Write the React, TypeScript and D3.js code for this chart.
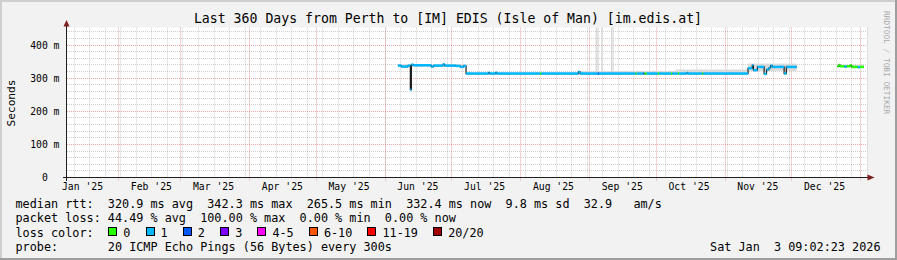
import React from "react";
import * as d3 from "d3";

const W = 897;
const H = 260;
const PLOT = { left: 67, right: 867, top: 27.5, bottom: 177.5 };

const domainStart = "2025-01-09T01:00:00Z";
const domainEnd = "2026-01-04T03:24:00Z";
const yMax = 453;
const yMajorTicks = [0, 100, 200, 300, 400];
const yMinorTicks = [20, 40, 60, 80, 120, 140, 160, 180, 220, 240, 260, 280, 320, 340, 360, 380, 420, 440];

const titleText = "Last 360 Days from Perth to [IM] EDIS (Isle of Man) [im.edis.at]";
const yAxisLabel = "Seconds";
const watermark = "RRDTOOL / TOBI OETIKER";
const stampText = "Sat Jan  3 09:02:23 2026";

// median rtt (ms) as step data; loss = lost pings out of 20
const medianTimes = [
  "2025-06-07T00:00Z", "2025-06-08T12:00Z", "2025-06-11T12:00Z", "2025-06-12T14:00Z", "2025-06-13T02:00Z",
  "2025-06-14T00:00Z", "2025-06-22T00:00Z", "2025-06-23T00:00Z", "2025-06-27T07:00Z", "2025-06-28T00:00Z",
  "2025-07-03T00:00Z", "2025-07-05T00:00Z", "2025-07-06T15:00Z", "2025-07-07T16:00Z", "2025-07-17T19:00Z",
  "2025-07-18T06:00Z", "2025-07-21T00:00Z", "2025-07-21T12:00Z", "2025-08-10T00:00Z", "2025-08-10T12:00Z",
  "2025-08-27T06:00Z", "2025-08-28T00:00Z", "2025-09-05T00:00Z", "2025-09-05T12:00Z", "2025-09-22T00:00Z",
  "2025-09-22T12:00Z", "2025-09-25T12:00Z", "2025-09-26T00:00Z", "2025-09-27T00:00Z", "2025-10-02T00:00Z",
  "2025-10-02T12:00Z", "2025-10-08T00:00Z", "2025-10-08T12:00Z", "2025-10-11T00:00Z", "2025-10-11T12:00Z",
  "2025-10-15T00:00Z", "2025-10-15T12:00Z", "2025-10-22T00:00Z", "2025-10-22T12:00Z", "2025-11-11T14:00Z",
  "2025-11-13T12:00Z", "2025-11-14T00:00Z", "2025-11-15T20:00Z", "2025-11-18T20:00Z", "2025-11-19T22:00Z",
  "2025-11-21T00:00Z", "2025-11-21T18:00Z", "2025-11-22T12:00Z", "2025-11-27T20:00Z", "2025-11-28T20:00Z",
  "2025-12-03T12:00Z", "2025-12-21T18:00Z", "2025-12-22T12:00Z", "2025-12-23T00:00Z", "2025-12-25T00:00Z",
  "2025-12-26T00:00Z", "2025-12-27T14:00Z", "2025-12-28T06:00Z", "2025-12-31T00:00Z", "2026-01-01T00:00Z",
  "2026-01-02T18:00Z",
];
const medianMs: (number | null)[] = [
  338, 335, 338, 265, 341,
  339, 335, 338, 342, 338,
  337, 334, 337, 314, 317,
  314, 317, 314, 314, 314,
  319, 314, 314, 314, 314,
  314, 314, 314, 314, 314,
  314, 314, 314, 314, 314,
  316, 314, 314, 314, 330,
  339, 324, 334, 313, 326,
  331, 338, 334, 314, 334,
  null, 336, 340, 336, 335,
  336, 339, 334, 333, 334,
  null,
];
const medianLoss: (number | null)[] = [
  1, 1, 1, 1, 1,
  1, 1, 1, 1, 1,
  1, 1, 1, 1, 1,
  1, 1, 1, 0, 1,
  1, 1, 2, 1, 0,
  1, 2, 0, 1, 0,
  1, 0, 1, 0, 1,
  1, 1, 0, 1, 1,
  1, 1, 1, 1, 1,
  1, 1, 1, 1, 1,
  null, 0, 0, 0, 1,
  0, 0, 0, 1, 0,
  null,
];

// smoke (spread of individual pings), ms
const smokeTimes = [
  "2025-06-07T00:00Z", "2025-07-07T16:00Z", "2025-08-28T00:00Z", "2025-09-04T00:00Z", "2025-09-04T12:00Z",
  "2025-09-04T20:00Z", "2025-09-05T08:00Z", "2025-09-06T14:00Z", "2025-09-07T00:00Z", "2025-09-11T00:00Z",
  "2025-09-11T10:00Z", "2025-09-11T14:00Z", "2025-09-12T00:00Z", "2025-10-10T00:00Z", "2025-11-11T14:00Z",
  "2025-12-03T12:00Z", "2025-12-21T18:00Z", "2026-01-02T18:00Z",
];
const smokeLo: (number | null)[] = [334, 312, 312, 312, 312, 312, 312, 312, 312, 312, 312, 312, 312, 312, 322, null, 334, null];
const smokeHi: (number | null)[] = [342, 317, 321, 480, 321, 480, 321, 480, 321, 480, 321, 480, 322, 326, 344, null, 340, null];

const lossLabels = ["0", "1", "2", "3", "4-5", "6-10", "11-19", "20/20"];
const lossColors = ["#26ff00", "#00b8ff", "#0059ff", "#7e00ff", "#ff00ff", "#ff5500", "#ff0000", "#a10000"];
const lossUpper = [0, 1, 2, 3, 5, 10, 19, 20];

const legendRows = [
  "median rtt:  320.9 ms avg  342.3 ms max  265.5 ms min  332.4 ms now  9.8 ms sd  32.9   am/s",
  "packet loss: 44.49 % avg  100.00 % max  0.00 % min  0.00 % now",
  "loss color:",
  "probe:       20 ICMP Echo Pings (56 Bytes) every 300s",
];

const MONO = "'DejaVu Sans Mono', monospace";
const CH = 7.1; // legend character advance
const nb = (s: string) => s.replace(/ /g, "\u00a0");

function lossColor(l: number) {
  const i = lossUpper.findIndex((u) => l <= u);
  return lossColors[i < 0 ? lossColors.length - 1 : i];
}

export default function App() {
  const x = d3.scaleUtc().domain([new Date(domainStart), new Date(domainEnd)]).range([PLOT.left, PLOT.right]);
  const y = d3.scaleLinear().domain([0, yMax]).range([PLOT.bottom, PLOT.top]);
  const [d0, d1] = x.domain();

  const weeks = d3.utcSunday.range(d0, d1);
  const months = d3.utcMonth.range(d0, d1);
  const labelMonths = d3.utcMonth
    .range(d3.utcMonth.floor(d0), d1)
    .map((m) => ({ m, c: d3.utcDay.offset(m, 15) }))
    .filter((o) => o.c >= d0 && o.c <= d1);
  const fmt = d3.utcFormat("%b '%y");

  const mt = medianTimes.map((s) => new Date(s));
  const st = smokeTimes.map((s) => new Date(s));

  let medPath = "";
  for (let i = 0; i < mt.length - 1; i++) {
    const v = medianMs[i];
    if (v == null) continue;
    const prev = i > 0 ? medianMs[i - 1] : null;
    if (prev == null) medPath += `M${x(mt[i])},${y(v)}`;
    else medPath += `V${y(v)}`;
    medPath += `H${x(mt[i + 1])}`;
  }

  const bands = [];
  for (let i = 0; i < mt.length - 1; i++) {
    const v = medianMs[i];
    const l = medianLoss[i];
    if (v == null || l == null) continue;
    bands.push({ x0: x(mt[i]), x1: x(mt[i + 1]), yc: y(v), color: lossColor(l) });
  }

  const smokes = [];
  for (let i = 0; i < st.length - 1; i++) {
    const lo = smokeLo[i];
    const hi = smokeHi[i];
    if (lo == null || hi == null) continue;
    const yt = Math.max(PLOT.top, y(hi));
    smokes.push({ x0: x(st[i]), x1: x(st[i + 1]), y0: yt, y1: y(lo), tall: hi > yMax });
  }

  const minorGrid = "rgba(143,143,143,0.42)";
  const majorGrid = "rgba(222,79,79,0.5)";
  const crisp = (v: number) => Math.round(v) + 0.5;

  let lx = 16 + 13 * CH;
  const lossItems = lossLabels.map((lab, i) => {
    const item = { lab, color: lossColors[i], bx: lx };
    lx += (lab.length + 4.25) * CH;
    return item;
  });

  const rowY = [208, 222.3, 236.5, 250.5];

  return (
    <svg width={W} height={H} style={{ position: "absolute", left: 0, top: 0, display: "block" }} xmlns="http://www.w3.org/2000/svg">
      <rect x={0} y={0} width={W} height={H} fill="#f2f2f2" />
      <rect x={0} y={0} width={W} height={2} fill="#cfcfcf" />
      <rect x={0} y={0} width={2} height={H} fill="#cfcfcf" />
      <rect x={0} y={H - 2} width={W} height={2} fill="#9e9e9e" />
      <rect x={W - 2} y={0} width={2} height={H} fill="#9e9e9e" />

      <rect x={PLOT.left} y={PLOT.top} width={PLOT.right - PLOT.left} height={PLOT.bottom - PLOT.top} fill="#ffffff" />

      <g stroke={minorGrid} strokeWidth={1} strokeDasharray="1,1" fill="none">
        {yMinorTicks.map((t) => (
          <line key={"ym" + t} x1={PLOT.left} x2={PLOT.right} y1={crisp(y(t) - 0.5)} y2={crisp(y(t) - 0.5)} />
        ))}
        {weeks.map((w) => (
          <line key={"xw" + w.getTime()} x1={crisp(x(w))} x2={crisp(x(w))} y1={PLOT.top} y2={PLOT.bottom} />
        ))}
      </g>
      <g stroke={majorGrid} strokeWidth={1} strokeDasharray="1,1" fill="none">
        {yMajorTicks.filter((t) => t > 0).map((t) => (
          <line key={"yM" + t} x1={PLOT.left} x2={PLOT.right} y1={crisp(y(t) - 0.5)} y2={crisp(y(t) - 0.5)} />
        ))}
        {months.map((m) => (
          <line key={"xM" + m.getTime()} x1={crisp(x(m))} x2={crisp(x(m))} y1={PLOT.top} y2={PLOT.bottom + 3} />
        ))}
      </g>

      <g>
        {smokes.map((s, i) => (
          <rect key={i} x={s.x0} y={s.y0} width={Math.max(1, s.x1 - s.x0)} height={s.y1 - s.y0} fill={s.tall ? "#d0d0d0" : "#d9d9d9"} />
        ))}
      </g>

      <path d={medPath} fill="none" stroke="#202020" strokeWidth={1.2} />
      {bands.map((b, i) => (
        <rect key={i} x={b.x0} y={b.yc - 1.25} width={b.x1 - b.x0} height={2.5} fill={b.color} />
      ))}

      <line x1={63} x2={868} y1={177.5} y2={177.5} stroke="#1f1f1f" strokeWidth={1} />
      <line x1={66.5} x2={66.5} y1={25} y2={181} stroke="#1f1f1f" strokeWidth={1} />
      <path d="M867.5,174.5L874.5,177.5L867.5,180.5Z" fill="#801f1f" />
      <path d="M63.5,26.5L66.5,20L69.5,26.5Z" fill="#801f1f" />

      <g fontFamily={MONO} fontSize={9.75} fill="#000">
        {yMajorTicks.map((t) => (
          <g key={"yl" + t}>
            <text x={47.8} y={y(t) + 3.5} textAnchor="end">{t}</text>
            {t > 0 && <text x={53.6} y={y(t) + 3.5}>m</text>}
          </g>
        ))}
        {labelMonths.map((o) => (
          <text key={"ml" + o.m.getTime()} x={x(o.c)} y={190} textAnchor="middle">
            {nb(fmt(o.m))}
          </text>
        ))}
      </g>

      <text x={448} y={23.3} textAnchor="middle" fontFamily={MONO} fontSize={13.2} fill="#000">
        {nb(titleText)}
      </text>

      <text transform="translate(15,103) rotate(-90)" textAnchor="middle" fontFamily={MONO} fontSize={11.2} fill="#000">
        {yAxisLabel}
      </text>

      <text transform="translate(884,11) rotate(90)" fontFamily={MONO} fontSize={7.8} fill="#a8a8a8">
        {nb(watermark)}
      </text>

      <g fontFamily={MONO} fontSize={11.8} fill="#000">
        {legendRows.map((r, i) => (
          <text key={"lr" + i} x={15.5} y={rowY[i]}>{nb(r)}</text>
        ))}
        {lossItems.map((it) => (
          <g key={it.lab}>
            <rect x={Math.round(it.bx) + 0.5} y={227.5} width={8} height={8} fill={it.color} stroke="#000" strokeWidth={1} />
            <text x={it.bx + 15} y={rowY[2]}>{it.lab}</text>
          </g>
        ))}
        <text x={880.5} y={rowY[3]} textAnchor="end">{nb(stampText)}</text>
      </g>
    </svg>
  );
}
